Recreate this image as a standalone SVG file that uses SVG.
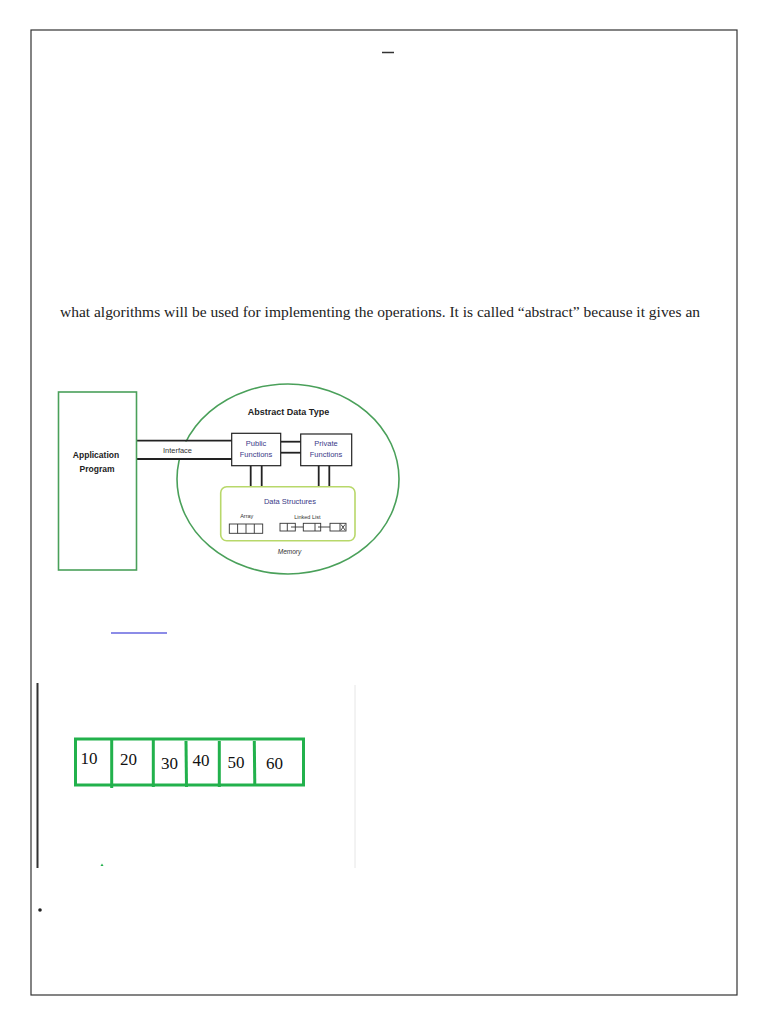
<svg xmlns="http://www.w3.org/2000/svg" width="768" height="1024" viewBox="0 0 768 1024">
<style>
.pg{fill:none;stroke:#333;stroke-width:1.2}
.body{font-family:"Liberation Serif",serif;font-size:15px;fill:#222}
.g{fill:none;stroke:#4aa05a;stroke-width:1.6}
.blk{fill:#fff;stroke:#222;stroke-width:1.2}
.ln{stroke:#222;stroke-width:1.8;fill:none}
.bt{font-family:"Liberation Sans",sans-serif;font-weight:bold;fill:#222;text-anchor:middle}
.bl{font-family:"Liberation Sans",sans-serif;fill:#3a3a88;text-anchor:middle}
.sm{font-family:"Liberation Sans",sans-serif;fill:#333;text-anchor:middle}
.ds{fill:none;stroke:#333;stroke-width:0.9}
.gb{fill:none;stroke:#22b14c;stroke-width:3}
.num{font-family:"Liberation Serif",serif;font-size:17px;fill:#111;text-anchor:middle}
</style>
<rect width="768" height="1024" fill="#fff"/>
<rect class="pg" x="31" y="30" width="706" height="965"/>
<line x1="382" y1="52.5" x2="394" y2="52.5" stroke="#333" stroke-width="1.5"/>
<text class="body" x="60" y="317" textLength="640" lengthAdjust="spacingAndGlyphs">what algorithms will be used for implementing the operations. It is called “abstract” because it gives an</text>

<g id="adt">
<ellipse class="g" cx="288" cy="479" rx="111" ry="95"/>
<text class="bt" font-size="9" x="288.5" y="415">Abstract Data Type</text>
<text class="sm" font-size="6.5" font-style="italic" x="289.5" y="554">Memory</text>
</g>

<g id="connectors">
<rect x="137" y="441.5" width="95" height="16.7" fill="#fff"/>
<line class="ln" x1="137" y1="440.7" x2="232" y2="440.7"/>
<line class="ln" x1="137" y1="459" x2="232" y2="459"/>
<text class="sm" font-size="7" x="177.5" y="452.5" textLength="29" lengthAdjust="spacingAndGlyphs">Interface</text>
<line class="ln" x1="281" y1="441.7" x2="301" y2="441.7"/>
<line class="ln" x1="281" y1="452.7" x2="301" y2="452.7"/>
<line class="ln" x1="250.7" y1="465.7" x2="250.7" y2="487"/>
<line class="ln" x1="261.7" y1="465.7" x2="261.7" y2="487"/>
<line class="ln" x1="318.7" y1="465.7" x2="318.7" y2="487"/>
<line class="ln" x1="329.3" y1="465.7" x2="329.3" y2="487"/>
</g>

<g id="app">
<rect class="g" x="58.5" y="392" width="78" height="178"/>
<text class="bt" font-size="8.5" x="96" y="458">Application</text>
<text class="bt" font-size="8.5" x="97" y="472">Program</text>
</g>
<g id="public">
<rect class="blk" x="231.7" y="433.3" width="49" height="32.4"/>
<text class="bl" font-size="7.5" x="256" y="446">Public</text>
<text class="bl" font-size="7.5" x="256" y="457">Functions</text>
</g>
<g id="private">
<rect class="blk" x="300.7" y="434" width="51" height="31.7"/>
<text class="bl" font-size="7.5" x="326" y="446">Private</text>
<text class="bl" font-size="7.5" x="326" y="457">Functions</text>
</g>
<g id="datastructures">
<rect x="220.7" y="486.7" width="134.3" height="54" rx="6" fill="#fff" stroke="#b8d86a" stroke-width="1.6"/>
<text class="bl" font-size="7.5" x="290" y="504">Data Structures</text>
<text class="sm" font-size="5.5" x="246.7" y="518">Array</text>
<text class="sm" font-size="5.5" x="307.3" y="518.5">Linked List</text>
<rect class="ds" x="229.3" y="524" width="33.4" height="9.3"/>
<line class="ds" x1="237.6" y1="524" x2="237.6" y2="533.3"/>
<line class="ds" x1="246" y1="524" x2="246" y2="533.3"/>
<line class="ds" x1="254.3" y1="524" x2="254.3" y2="533.3"/>
<rect class="ds" x="280" y="523.3" width="15.3" height="7.7"/>
<line class="ds" x1="287.3" y1="523.3" x2="287.3" y2="531"/>
<line class="ds" x1="291" y1="527" x2="303.3" y2="527"/>
<rect class="ds" x="303.3" y="523.3" width="17.4" height="7.7"/>
<line class="ds" x1="315" y1="523.3" x2="315" y2="531"/>
<line class="ds" x1="318" y1="527" x2="330" y2="527"/>
<rect class="ds" x="330" y="523.3" width="16" height="7.7"/>
<line class="ds" x1="340" y1="523.3" x2="340" y2="531"/>
<line class="ds" x1="341" y1="524.5" x2="345" y2="530"/>
<line class="ds" x1="345" y1="524.5" x2="341" y2="530"/>
</g>

<line x1="111" y1="633" x2="167" y2="633" stroke="#1a1ad0" stroke-width="1.2"/>

<line x1="37.5" y1="683" x2="37.5" y2="868" stroke="#333" stroke-width="2"/>
<line x1="355" y1="685" x2="355" y2="868" stroke="#e6e6e6" stroke-width="1"/>
<g id="array">
<rect class="gb" x="75.5" y="739" width="228" height="46"/>
<line class="gb" x1="111.7" y1="739" x2="111.7" y2="788"/>
<line class="gb" x1="153.3" y1="739" x2="153.3" y2="787"/>
<line class="gb" x1="186" y1="741" x2="186.5" y2="787"/>
<line class="gb" x1="219.3" y1="741" x2="219.3" y2="787"/>
<line class="gb" x1="254.3" y1="741" x2="254.8" y2="785"/>
<text class="num" x="89" y="764">10</text>
<text class="num" x="128.5" y="765">20</text>
<text class="num" x="169.5" y="769">30</text>
<text class="num" x="201" y="766">40</text>
<text class="num" x="236" y="768">50</text>
<text class="num" x="274.5" y="769">60</text>
</g>
<path d="M100.5 866 L102 863.5 L103.5 866 Z" fill="#22b14c"/>
<circle cx="40" cy="910" r="1.8" fill="#222"/>
</svg>
